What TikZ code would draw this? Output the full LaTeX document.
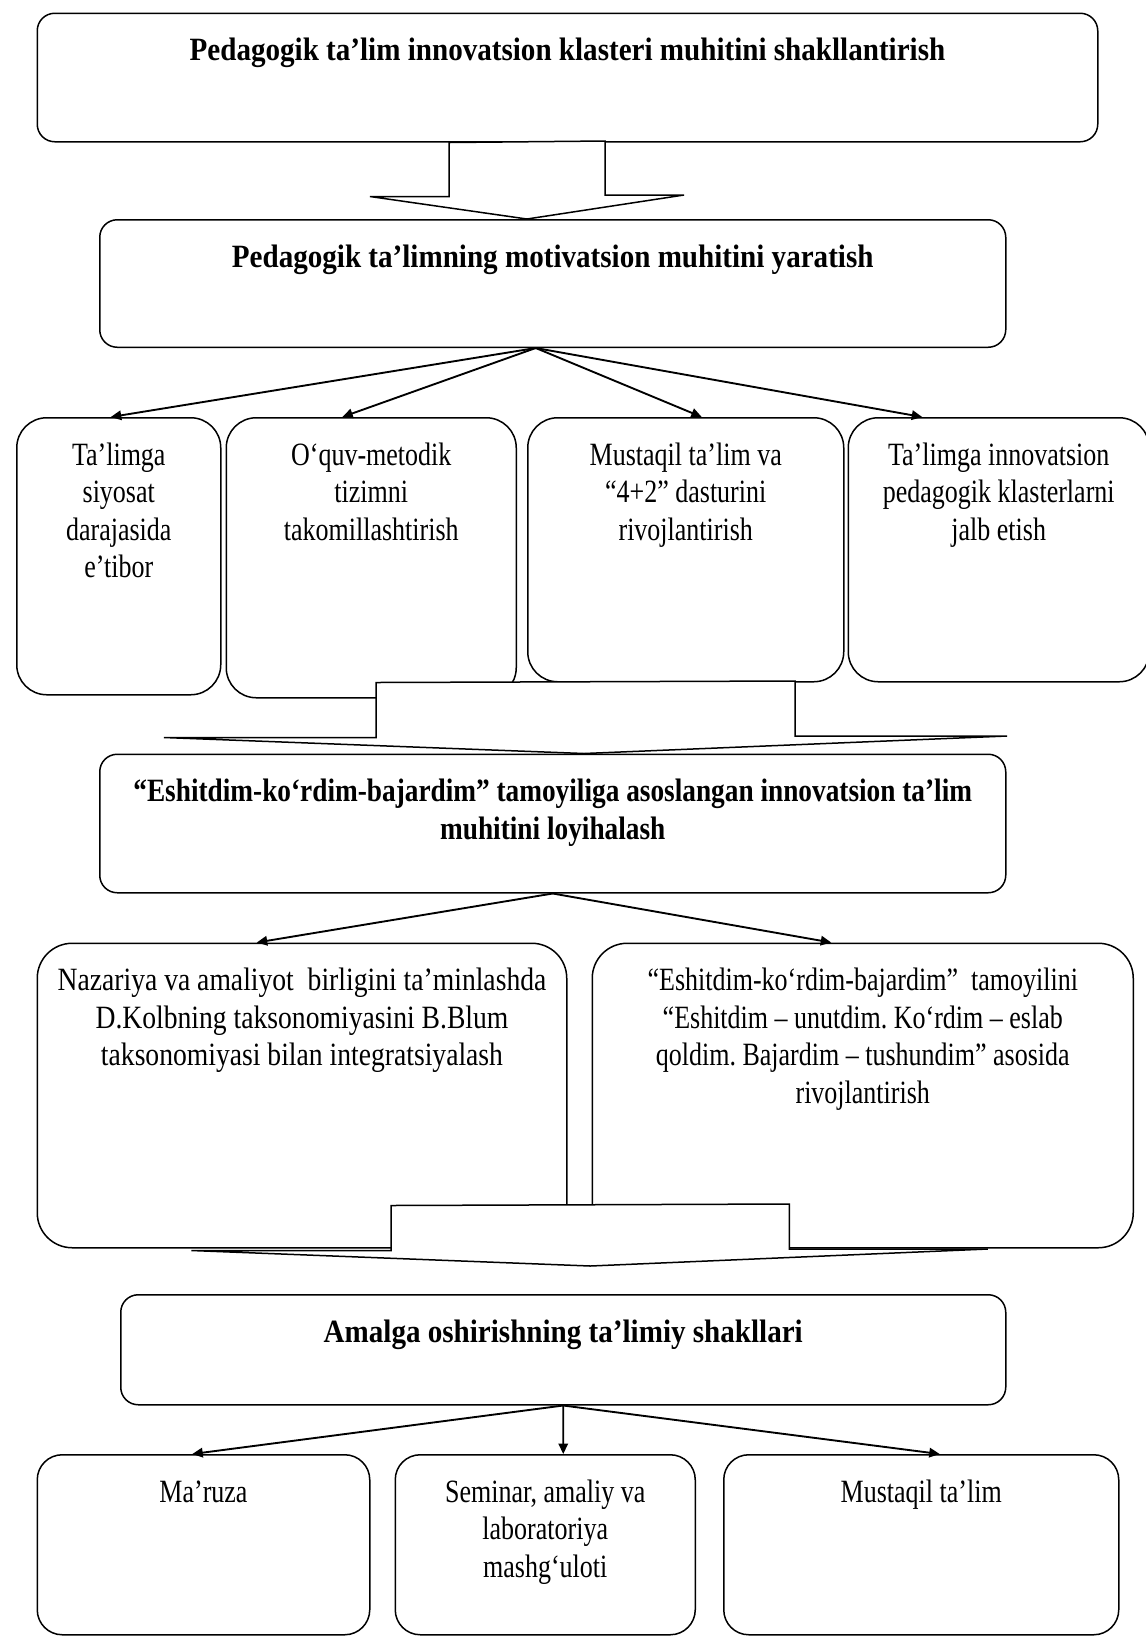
\documentclass[tikz,border=0pt]{standalone}
\usepackage{fontspec}
\setmainfont{Liberation Serif}[FakeStretch=0.8]
\newfontfamily\widefont{Liberation Serif}[FakeStretch=0.85]
\newfontfamily\headfont{Liberation Serif}[FakeStretch=0.895]
\newfontfamily\headfontn{Liberation Serif}[FakeStretch=0.84]
\usetikzlibrary{arrows.meta, positioning, calc}

\begin{document}
\begin{tikzpicture}[x=1pt,y=-1pt,
 every node/.style={font=\fontsize{13}{15}\selectfont\frenchspacing,align=flush center},
 box/.style={rectangle,draw,line width=0.6pt,rounded corners=#1,inner xsep=4pt,inner ysep=9pt,text height=10pt,anchor=north west},
 box/.default=12pt,
 head/.style={box=7pt,font=\headfont\bfseries\fontsize{13}{15}\selectfont\frenchspacing},
 arr/.style={-{Triangle[length=4.2pt,width=3.8pt]},line width=0.75pt},
 fat/.style={draw,fill=white,line width=0.6pt,line join=miter}]
\useasboundingbox (0,0) rectangle (458.4,654.4);
% main boxes
\node[head,text width=416.2pt,text depth=23.4pt] (klaster) at (14.6,5) {Pedagogik ta’lim innovatsion klasteri muhitini shakllantirish};
\node[head,text width=354.4pt,text depth=23pt] (motiv) at (39.6,87.6) {Pedagogik ta’limning motivatsion muhitini yaratish};
% second row
\node[box,text width=73.6pt,text depth=82.8pt] (b1) at (6.4,166.8) {Ta’limga\\siyosat\\darajasida\\e’tibor};
\node[box,text width=108pt,text depth=84pt,right=1.6pt of b1.north east,anchor=north west] (b2) {O‘quv-metodik\\tizimni\\takomillashtirish};
\node[box,text width=118.4pt,text depth=77.6pt,right=4pt of b2.north east,anchor=north west] (b3) {Mustaqil ta’lim va\\“4+2” dasturini\\rivojlantirish};
\node[box,text width=112.4pt,text depth=77.6pt,right=1.2pt of b3.north east,anchor=north west] (b4) {Ta’limga innovatsion\\pedagogik klasterlarni\\jalb etish};
\node[head,font=\headfontn\bfseries\fontsize{13}{15}\selectfont,text width=354.4pt,text depth=27.4pt] (inno) at (39.6,301.4) {“Eshitdim-ko‘rdim-bajardim” tamoyiliga asoslangan innovatsion ta’lim\\muhitini loyihalash};
% third row
\node[box=14pt,font=\widefont\fontsize{13}{15}\selectfont,text width=203.8pt,text depth=93.8pt] (c1) at (14.6,377) {Nazariya va amaliyot\ \ birligini ta’minlashda\\D.Kolbning taksonomiyasini B.Blum\\taksonomiyasi bilan integratsiyalash};
\node[box=14pt,text width=208.4pt,text depth=93.8pt,right=9.6pt of c1.north east,anchor=north west] (c2) {“Eshitdim-ko‘rdim-bajardim”\ \ tamoyilini\\“Eshitdim – unutdim. Ko‘rdim – eslab\\qoldim. Bajardim – tushundim” asosida\\rivojlantirish};
\node[head,text width=346pt,text depth=16pt] (impl) at (48,517.6) {Amalga oshirishning ta’limiy shakllari};
% last row
\node[box=10pt,text width=125pt,text depth=44pt] (d1) at (14.6,581.6) {Ma’ruza};
\node[box=10pt,text width=112pt,text depth=44pt,right=9.6pt of d1.north east,anchor=north west] (d2) {Seminar, amaliy va\\laboratoriya\\mashg‘uloti};
\node[box=10pt,text width=150pt,text depth=44pt,right=10.8pt of d2.north east,anchor=north west] (d3) {Mustaqil ta’lim};
% wide arrows
\draw[fat] ($(klaster.south west)+(165,0)$) -- ++(0,21.6) -- ++(-31.6,0) -- ($(motiv.north west)+(171.2,0)$)
 -- ++(62.8,-9.6) -- ++(-31.6,0) -- ++(0,-21.6) -- cycle;
\draw[fat] ($(b3.south west)+(-60.4,0)$) -- ++(0,22) -- ++(-84.8,0) -- ($(inno.north west)+(194,0)$)
 -- ++(169.2,-7) -- ++(-84.8,0) -- ++(0,-22) -- cycle;
\coordinate (tip3) at ($(impl.north)+(10.8,-11.2)$);
\draw[fat] ($(c1.south west)+(141.8,-17.2)$) -- ++(0,18) -- ++(-79.8,0) -- (tip3)
 -- ++(159,-6.8) -- ++(-79.4,0) -- ++(0,-18) -- cycle;
% thin arrows
\coordinate (m0) at ($(motiv.south)+(-6.8,0)$);
\draw[arr] (m0) -- ($(b1.north)+(-3.2,0)$);
\draw[arr] (m0) -- ($(b2.north)+(-11.6,0)$);
\draw[arr] (m0) -- ($(b3.north)+(6.4,0)$);
\draw[arr] (m0) -- ($(b4.north)+(-30.6,0)$);
\draw[arr] (inno.south) -- ($(c1.north)+(-18.1,0)$);
\draw[arr] (inno.south) -- ($(c2.north)+(-12.6,0)$);
\draw[arr] (impl.south) -- ($(d1.north)+(-4.5,0)$);
\draw[arr] (impl.south) -- ($(d2.north)+(7.2,0)$);
\draw[arr] (impl.south) -- ($(d3.north)+(7.4,0)$);
\end{tikzpicture}
\end{document}
